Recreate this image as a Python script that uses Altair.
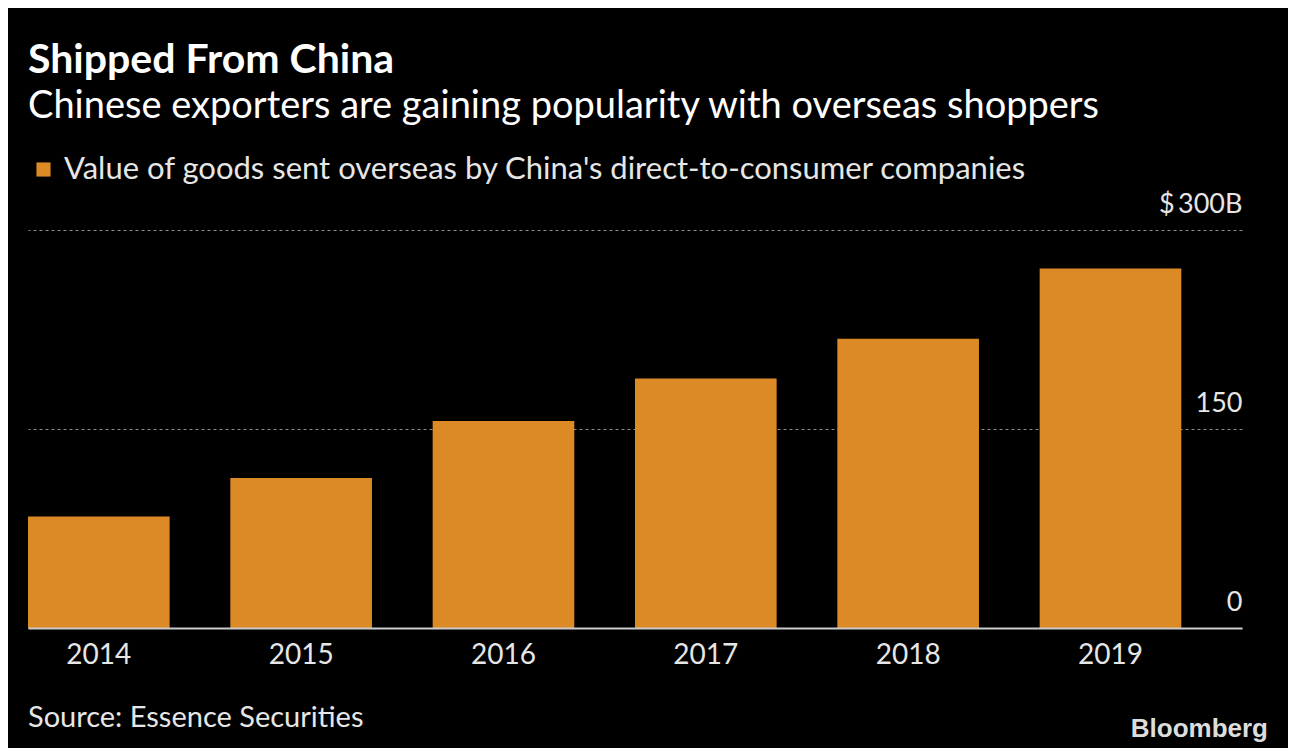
import altair as alt
import pandas as pd

years = ["2014", "2015", "2016", "2017", "2018", "2019"]
values = [84, 113, 156, 188, 218, 271]
series_name = "Value of goods sent overseas by China's direct-to-consumer companies"
title_text = "Shipped From China"
subtitle_text = "Chinese exporters are gaining popularity with overseas shoppers"
source_text = "Source: Essence Securities"
credit_text = "Bloomberg"
y_ticks = [0, 150, 300]

ORANGE = "#DB8A26"
TEXT = "#E6E6E6"
FONT = "Lato"
W, H = 1214, 398

df = pd.DataFrame({"year": years, "value": values, "series": [series_name] * len(years)})

bars = alt.Chart(df).mark_bar().encode(
    x=alt.X("year:N",
            scale=alt.Scale(paddingInner=0.3, paddingOuter=0.15, align=0),
            axis=alt.Axis(title=None, labelAngle=0, labelFontSize=28, labelColor=TEXT,
                          labelFont=FONT, labelPadding=13, ticks=False,
                          domainColor="#CCCCCC", domainWidth=2, zindex=1)),
    y=alt.Y("value:Q",
            scale=alt.Scale(domain=[0, 300]),
            axis=alt.Axis(title=None, orient="right", values=y_ticks, domain=False,
                          ticks=False, tickSize=0, labelPadding=0, labelAlign="right",
                          labelBaseline="bottom", labelOffset=-12, labelFontSize=27,
                          labelColor=TEXT, labelFont=FONT,
                          labelExpr="datum.value == 300 ? '$\u2009300B' : datum.label",
                          grid=True, gridColor="#8A8A8A", gridDash=[3, 3], gridWidth=1)),
    color=alt.Color("series:N", scale=alt.Scale(range=[ORANGE]),
                    legend=alt.Legend(title=None, orient="none", legendX=0, legendY=-76,
                                      symbolType="square", symbolSize=200, symbolStrokeWidth=0,
                                      labelFontSize=31, labelColor=TEXT, labelFont=FONT,
                                      labelLimit=2000, labelOffset=5, padding=0)),
)

notes = pd.DataFrame({"source": [source_text], "credit": [credit_text]})

source = alt.Chart(notes).mark_text(align="left", baseline="middle", fontSize=29,
                                    color=TEXT, font=FONT).encode(
    text="source:N", x=alt.value(0), y=alt.value(488))

credit = alt.Chart(notes).mark_text(align="right", baseline="middle", fontSize=26,
                                    fontWeight="bold", color="#DDDDDD",
                                    font="Liberation Sans").encode(
    text="credit:N", x=alt.value(1240), y=alt.value(499))

chart = alt.layer(bars, source, credit).properties(
    width=W, height=H,
    title=alt.TitleParams(title_text, subtitle=subtitle_text, anchor="start", frame="group",
                          font=FONT, fontSize=41, fontWeight="bold", color="white",
                          subtitleFont=FONT, subtitleFontSize=38, subtitleColor="white",
                          subtitlePadding=6, offset=27, limit=2000),
    autosize=alt.AutoSizeParams(type="none"),
    padding={"left": 20, "top": 222, "right": 46, "bottom": 120},
).configure(background="black").configure_view(strokeWidth=0)

chart.save("out.html", embed_options={"renderer": "svg", "actions": False})
